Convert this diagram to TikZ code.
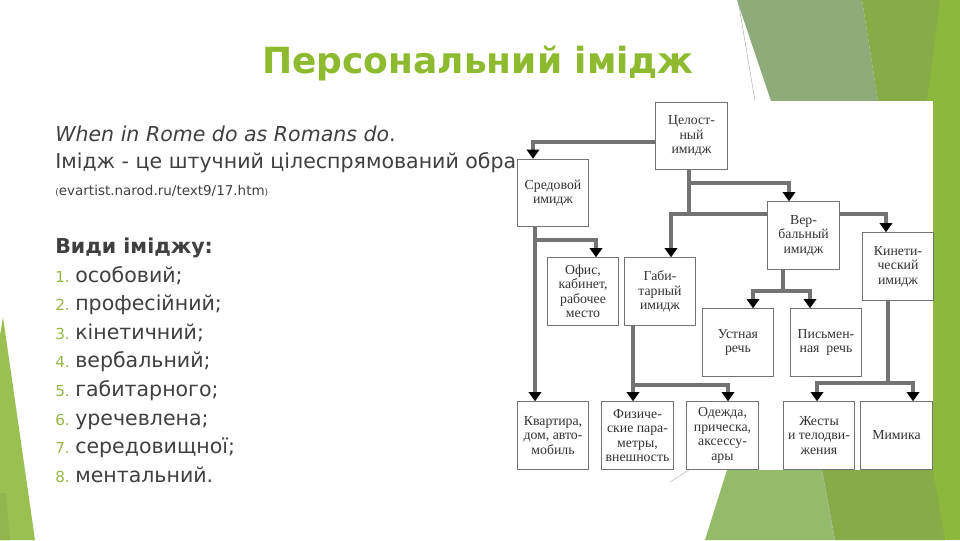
\documentclass[tikz,border=0pt]{standalone}
\usepackage{fontspec}
\setmainfont{DejaVu Sans}
\newfontfamily\boxfont{Liberation Serif}
\usetikzlibrary{arrows.meta,positioning}
\definecolor{facetgreen}{RGB}{141,186,46}
\definecolor{numgreen}{RGB}{150,182,72}
\definecolor{bodygray}{RGB}{64,64,64}
\definecolor{sagegreen}{RGB}{143,171,122}
\definecolor{midgreen}{RGB}{133,172,70}
\definecolor{brightgreen}{RGB}{141,184,62}
\definecolor{palegreen}{RGB}{148,187,106}
\definecolor{leafgreen}{RGB}{155,192,82}
\newcommand{\listnum}[1]{\makebox[0.5cm][l]{\color{numgreen}\fontsize{10.8}{11}\selectfont #1.}}

\begin{document}
\begin{tikzpicture}[x=0.025cm,y=-0.025cm]
\tikzset{
  chartbox/.style={rectangle,draw=black!55,line width=0.6pt,fill=white,minimum width=1.79cm,minimum height=1.69cm,inner sep=0pt,align=center,text=black!80,font=\boxfont\fontsize{9.8}{10.3}\selectfont},
  chartline/.style={draw=black!55,line width=2.2pt},
  chartlink/.style={chartline,-{Triangle[length=2.3mm,width=3.1mm,color=black]}},
  bodytext/.style={anchor=base west,inner sep=0pt,text=bodygray,font=\fontsize{14.6}{17}\selectfont},
  srctext/.style={bodytext,font=\fontsize{9.6}{11}\selectfont},
  headtext/.style={bodytext,font=\bfseries\fontsize{14.6}{17}\selectfont},
  titletext/.style={anchor=base,inner sep=0pt,text=facetgreen,font=\bfseries\fontsize{25.6}{30}\selectfont}
}
% background shapes
\useasboundingbox (0,0) rectangle (960,540);
\fill[white] (0,0) rectangle (960,540);
\fill[leafgreen] (0,335) -- (3,317) -- (35,540) -- (0,540) -- cycle;
\fill[leafgreen!94!black] (0,493) -- (6,493) -- (10,540) -- (0,540) -- cycle;
\fill[brightgreen] (925,0) rectangle (960,540);
\fill[sagegreen] (737,0) -- (862,0) -- (878,101) -- (771,101) -- cycle;
\fill[midgreen] (862,0) -- (940,0) -- (927,101) -- (878,101) -- cycle;
\fill[palegreen] (727,470) -- (822,470) -- (835,540) -- (705,540) -- cycle;
\fill[midgreen] (822,470) -- (933,470) -- (945,540) -- (835,540) -- cycle;
\draw[gray!70,line width=0.3pt] (738,0) -- (755,101);
\draw[gray!60,line width=0.3pt] (822,470) -- (834,540);
\draw[gray!60,line width=0.3pt] (692,468) -- (670,482);
% title and text
\node[titletext] (n_title) at (478,73) {Персональний імідж};
\node[bodytext] (n_motto) at (55,141) {\textit{When in Rome do as Romans do}.};
\node[bodytext] (n_def) at (55,168) {Імідж - це штучний цілеспрямований образ};
\node[srctext] (n_src) at (55,195) {{\fontsize{6.5}{7}\selectfont(}evartist.narod.ru/text9/17.htm{\fontsize{6.5}{7}\selectfont)}};
\node[headtext] (n_kinds) at (55,253) {Види іміджу:};
\node[bodytext] (n_item1) at (55,282) {\listnum{1}особовий;};
\node[bodytext] (n_item2) at (55,310.6) {\listnum{2}професійний;};
\node[bodytext] (n_item3) at (55,339.2) {\listnum{3}кінетичний;};
\node[bodytext] (n_item4) at (55,367.8) {\listnum{4}вербальний;};
\node[bodytext] (n_item5) at (55,396.4) {\listnum{5}габитарного;};
\node[bodytext] (n_item6) at (55,425) {\listnum{6}уречевлена;};
\node[bodytext] (n_item7) at (55,453.6) {\listnum{7}середовищної;};
\node[bodytext] (n_item8) at (55,482.2) {\listnum{8}ментальний.};
% chart
\fill[white] (516,101) rectangle (933,470);
\node[chartbox] (n_whole) at (691.5,136) {Целост-\\ный\\имидж};
\node[chartbox] (n_env) at (553,193) {Средовой\\имидж};
\node[chartbox] (n_verb) at (803.5,235.5) {Вер-\\бальный\\имидж};
\node[chartbox] (n_kin) at (898,266.5) {Кинети-\\ческий\\имидж};
\node[chartbox] (n_office) at (583,291.5) {Офис,\\кабинет,\\рабочее\\место};
\node[chartbox] (n_hab) at (660,291.5) {Габи-\\тарный\\имидж};
\node[chartbox] (n_oral) at (738,342.5) {Устная\\речь};
\node[chartbox] (n_written) at (826,342.5) {Письмен-\\ная\ \ речь};
\node[chartbox] (n_flat) at (553,435.5) {Квартира,\\дом, авто-\\мобиль};
\node[chartbox] (n_body) at (637.5,435.5) {Физиче-\\ские пара-\\метры,\\внешность};
\node[chartbox] (n_clothes) at (722.5,435.5) {Одежда,\\прическа,\\аксессу-\\ары};
\node[chartbox] (n_gest) at (819,435.5) {Жесты\\и телодви-\\жения};
\node[chartbox] (n_mimic) at (896.5,435.5) {Мимика};
\coordinate (j_whole) at (689,214);
\draw[chartlink] (n_whole.west |- 0,142) -| (n_env.north -| 533,0);
\draw[chartline] (n_whole.south -| 689,0) -- (j_whole);
\draw[chartlink] (689,183) -| (n_verb.north -| 789,0);
\draw[chartlink] (n_verb.west |- 0,214) -| (n_hab.north -| 671,0);
\draw[chartlink] (n_verb.east |- 0,214) -| (n_kin.north -| 886,0);
\draw[chartlink] (n_env.south -| 535,0) -- (n_flat.north -| 535,0);
\draw[chartlink] (n_env.south -| 535,0) |- (596,240) -- (n_office.north -| 596,0);
\draw[chartlink] (n_verb.south -| 783,0) |- (753,291) -- (n_oral.north -| 753,0);
\draw[chartlink] (n_verb.south -| 783,0) |- (810,291) -- (n_written.north -| 810,0);
\draw[chartlink] (n_hab.south -| 633,0) -- (n_body.north -| 633,0);
\draw[chartlink] (n_hab.south -| 633,0) |- (728,385) -- (n_clothes.north -| 728,0);
\draw[chartlink] (n_kin.south -| 888,0) |- (817,383) -- (n_gest.north -| 817,0);
\draw[chartlink] (n_kin.south -| 888,0) |- (913,383) -- (n_mimic.north -| 913,0);
\end{tikzpicture}
\end{document}
